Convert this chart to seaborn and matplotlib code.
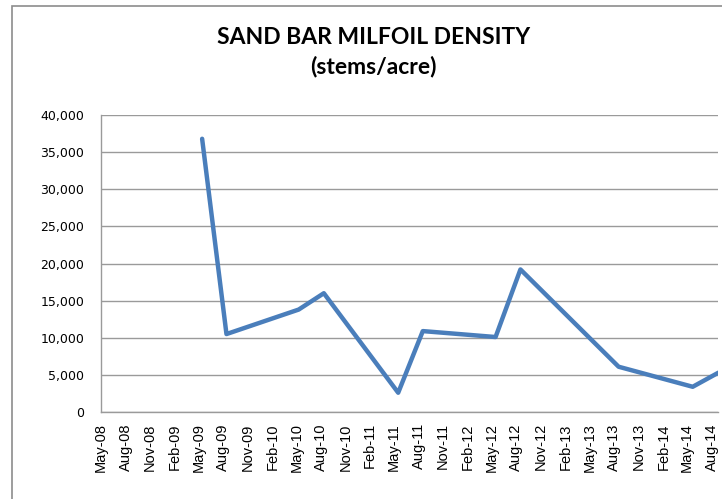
import pandas as pd
import matplotlib.pyplot as plt
import matplotlib.dates as mdates
import matplotlib.ticker as mticker
from matplotlib.patches import Rectangle
import seaborn as sns

# Survey dates and milfoil density (stems/acre)
dates = ['2009-05-14', '2009-08-13', '2010-05-10', '2010-08-12', '2011-05-17',
         '2011-08-17', '2012-05-15', '2012-08-16', '2013-08-18', '2014-05-22',
         '2014-08-26']
density = [36800, 10500, 13800, 16000, 2600, 10900, 10100, 19200, 6100, 3400, 5300]

df = pd.DataFrame({'Date': pd.to_datetime(dates), 'Density': density})

sns.set_style("white")
plt.rcParams['font.family'] = ['Liberation Sans', 'DejaVu Sans']

fig = plt.figure(figsize=(7.22, 4.99), dpi=100)
ax = fig.add_axes([0.1399, 0.1743, 0.8551, 0.5952])

sns.lineplot(data=df, x='Date', y='Density', ax=ax, color='#4a7ebb', linewidth=3.2)

# y axis
ax.set_ylim(0, 40000)
ax.yaxis.set_major_locator(mticker.MultipleLocator(5000))
ax.yaxis.set_major_formatter(mticker.FuncFormatter(lambda v, p: f'{int(v):,}'))
ax.grid(axis='y', color='#9a9a9a', linewidth=1)
ax.set_axisbelow(True)

# x axis: quarterly ticks from May-08
ax.set_xlim(pd.Timestamp('2008-05-01'), df['Date'].max())
ax.xaxis.set_major_locator(mdates.MonthLocator(bymonth=[2, 5, 8, 11], bymonthday=1))
ax.xaxis.set_major_formatter(mdates.DateFormatter('%b-%y'))
for lbl in ax.get_xticklabels():
    lbl.set_rotation(90)
    lbl.set_fontsize(10.5)
    lbl.set_family('Liberation Sans')
    lbl.set_color('black')
for lbl in ax.get_yticklabels():
    lbl.set_fontsize(9)
    lbl.set_family('DejaVu Sans')
    lbl.set_color('black')

ax.tick_params(axis='x', direction='out', length=5, color='#9a9a9a', pad=3)
ax.tick_params(axis='y', length=0, pad=12)

for s in ['top', 'right']:
    ax.spines[s].set_visible(False)
for s in ['left', 'bottom']:
    ax.spines[s].set_color('#9a9a9a')
    ax.spines[s].set_linewidth(1)

ax.set_xlabel('')
ax.set_ylabel('')

fig.text(0.517, 0.895, 'SAND BAR MILFOIL DENSITY\n(stems/acre)', ha='center', va='center',
         fontsize=16.5, fontweight='bold', family='Lato', linespacing=1.4, color='black')

# chart area border (only left/top visible in the crop)
fig.patches.append(Rectangle((12 / 722, -0.05), 1.1, (499 - 6) / 499 + 0.05,
                             transform=fig.transFigure, fill=False,
                             edgecolor='#8c8c8c', linewidth=1.2))

fig.savefig('out.png', dpi=100)
